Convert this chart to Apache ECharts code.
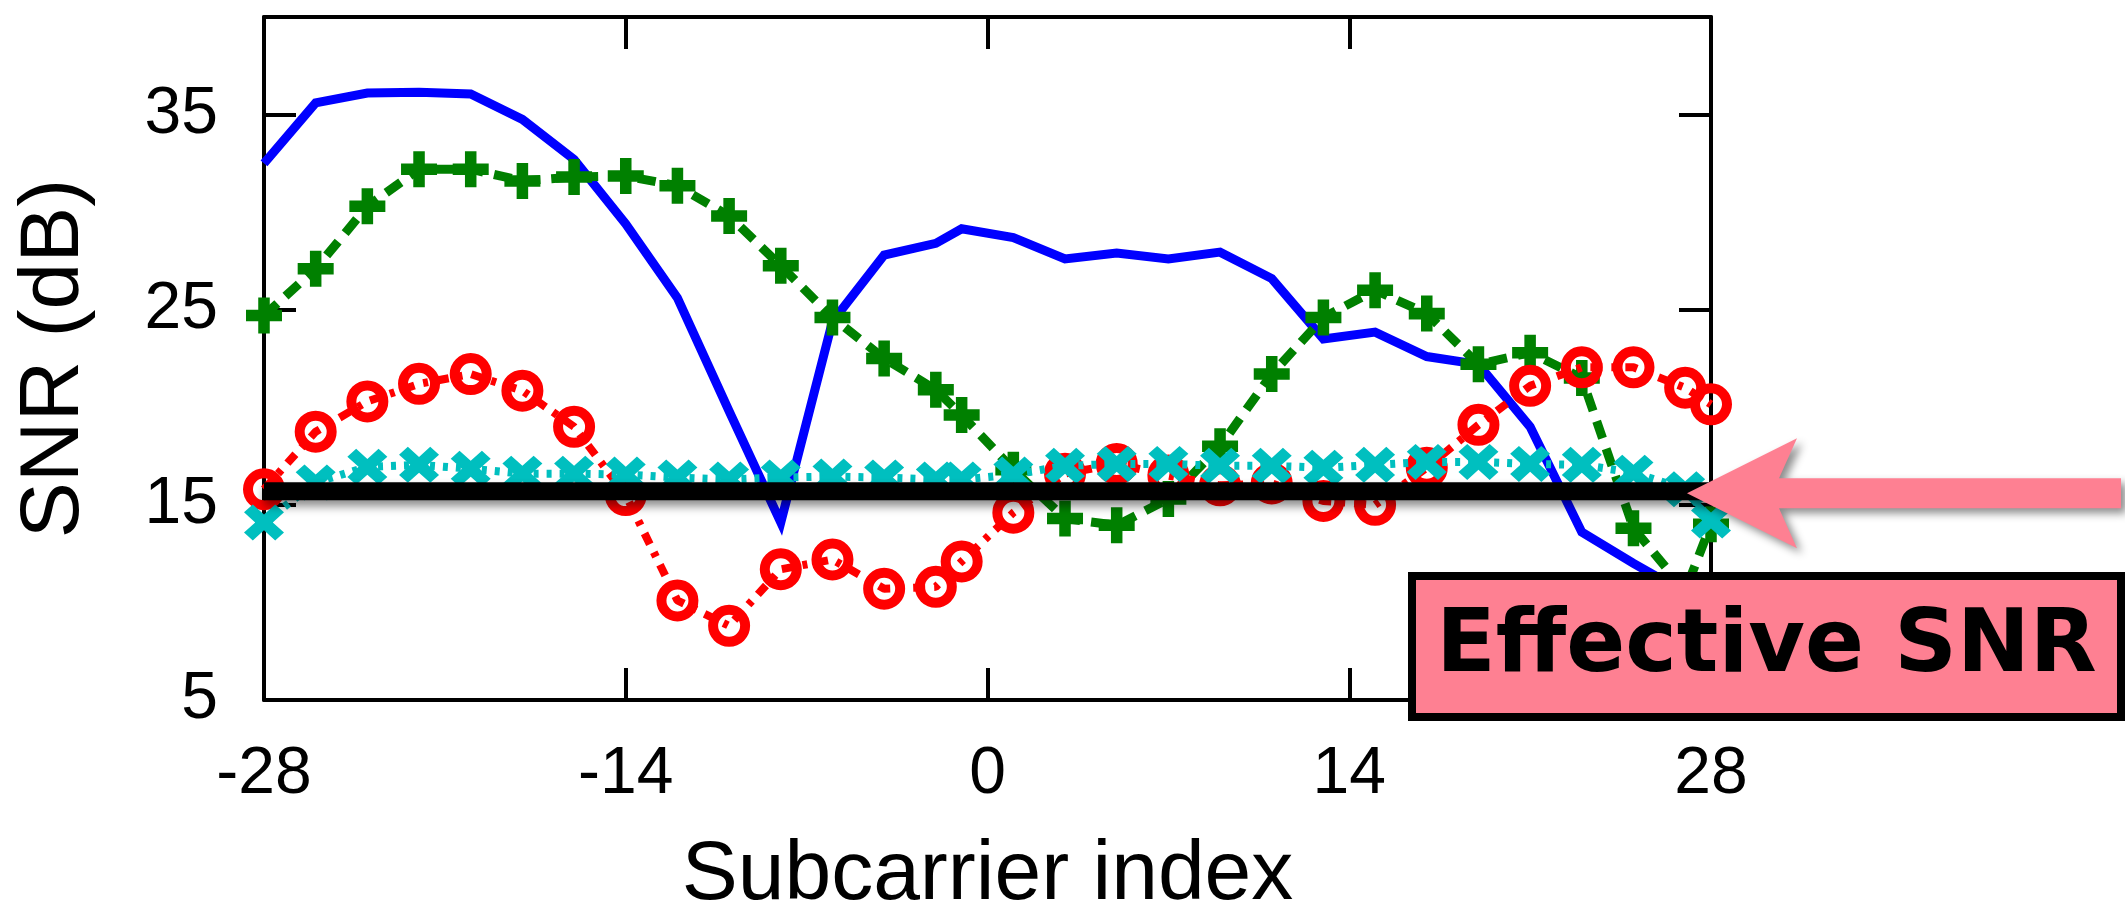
<!DOCTYPE html>
<html>
<head>
<meta charset="utf-8">
<title>SNR per subcarrier</title>
<script src="https://cdn.jsdelivr.net/npm/echarts@6/dist/echarts.min.js"></script>
<style>
  html, body { margin: 0; padding: 0; background: #ffffff; }
  #chart { width: 2125px; height: 923px; }
</style>
</head>
<body>
<div id="chart"></div>
<script>
// Subcarrier positions that carry a sample
const subcarriers = [-28, -26, -24, -22, -20, -18, -16, -14, -12, -10, -8, -6, -4, -2, -1,
                     1, 3, 5, 7, 9, 11, 13, 15, 17, 19, 21, 23, 25, 27, 28];

// Per-subcarrier SNR (dB) of four channels
const snrBlue = [32.5, 35.6, 36.1, 36.15, 36.05, 34.75, 32.7, 29.4, 25.6, 19.8, 14.1, 24.4, 27.8, 28.4, 29.15,
                 28.7, 27.6, 27.9, 27.6, 27.95, 26.6, 23.5, 23.85, 22.6, 22.2, 19.0, 13.6, 12.0, 10.5, 10.0];
const snrGreen = [24.7, 27.1, 30.3, 32.2, 32.2, 31.6, 31.8, 31.85, 31.35, 29.8, 27.25, 24.6, 22.5, 20.9, 19.6,
                  16.8, 14.3, 13.95, 15.3, 18.0, 21.7, 24.6, 26.0, 24.8, 22.2, 22.8, 21.5, 13.8, 10.6, 14.0];
const snrRed = [15.8, 18.75, 20.3, 21.2, 21.7, 20.85, 19.0, 15.5, 10.1, 8.8, 11.7, 12.2, 10.7, 10.8, 12.1,
                14.6, 16.6, 17.1, 16.5, 16.0, 16.1, 15.2, 15.0, 16.9, 19.1, 21.1, 22.05, 22.05, 21.0, 20.15];
const snrCyan = [14.1, 16.15, 16.95, 17.05, 16.85, 16.6, 16.6, 16.55, 16.4, 16.3, 16.4, 16.45, 16.4, 16.3, 16.3,
                 16.55, 17.0, 17.1, 17.1, 17.0, 17.0, 16.9, 17.05, 17.2, 17.2, 17.1, 17.05, 16.65, 15.8, 14.2];

// Effective SNR across the whole band (dB)
const effectiveSnr = 15.7;

// Axis ticks
const xTicks = [-28, -14, 0, 14, 28];
const yTicks = [5, 15, 25, 35];

const pairs = (ys) => subcarriers.map((x, i) => [x, ys[i]]);

const PLUS = 'path://M3.4,0 H6.6 V3.4 H10 V6.6 H6.6 V10 H3.4 V6.6 H0 V3.4 H3.4 Z';
const CROSS = 'path://M0,2.2 L2.2,0 L5,2.8 L7.8,0 L10,2.2 L7.2,5 L10,7.8 L7.8,10 L5,7.2 L2.2,10 L0,7.8 L2.8,5 Z';
const PINK = '#FE8092';

const chart = echarts.init(document.getElementById('chart'), null, { renderer: 'canvas' });

const tickFont = { fontFamily: 'Liberation Sans, Arial, sans-serif', fontSize: 66, color: '#000' };
const axisLine = { show: true, onZero: false, lineStyle: { color: '#000', width: 4 } };
const axisTick = (vals) => ({ show: true, inside: true, length: 32, lineStyle: { color: '#000', width: 4 }, customValues: vals });

const option = {
  animation: false,
  backgroundColor: '#ffffff',
  grid: { left: 264, right: 414, top: 17, bottom: 212, containLabel: false },
  xAxis: [
    {
      type: 'value', min: xTicks[0], max: xTicks[xTicks.length - 1], interval: 14, position: 'bottom',
      axisLine: axisLine, axisTick: axisTick(xTicks), splitLine: { show: false },
      axisLabel: Object.assign({ margin: 42, customValues: xTicks }, tickFont),
      name: 'Subcarrier index', nameLocation: 'middle', nameGap: 134,
      nameTextStyle: { fontFamily: 'Liberation Sans, Arial, sans-serif', fontSize: 84, color: '#000' }
    },
    {
      type: 'value', min: xTicks[0], max: xTicks[xTicks.length - 1], interval: 14, position: 'top',
      axisLine: axisLine, axisTick: axisTick(xTicks), splitLine: { show: false }, axisLabel: { show: false }
    }
  ],
  yAxis: [
    {
      type: 'value', min: 5, max: 40, position: 'left',
      axisLine: axisLine, axisTick: axisTick(yTicks), splitLine: { show: false },
      axisLabel: Object.assign({ margin: 46, customValues: yTicks }, tickFont),
      name: 'SNR (dB)', nameLocation: 'middle', nameGap: 167, nameRotate: 90,
      nameTextStyle: { fontFamily: 'Liberation Sans, Arial, sans-serif', fontSize: 84, color: '#000' }
    },
    {
      type: 'value', min: 5, max: 40, position: 'right',
      axisLine: axisLine, axisTick: axisTick(yTicks), splitLine: { show: false }, axisLabel: { show: false }
    }
  ],
  series: [
    {
      type: 'line', data: pairs(snrBlue), clip: false, symbol: 'none',
      lineStyle: { color: '#0000FF', width: 9, join: 'miter', miterLimit: 10 }, z: 2
    },
    {
      type: 'line', data: pairs(snrGreen), clip: false, showAllSymbol: true,
      symbol: PLUS, symbolSize: 36,
      itemStyle: { color: '#008000', borderWidth: 0 },
      lineStyle: { color: '#008000', width: 9, type: [18, 11] }, z: 3
    },
    {
      type: 'line', data: pairs(snrRed), clip: false, showAllSymbol: true,
      symbol: 'circle', symbolSize: 32,
      itemStyle: { color: 'rgba(255,255,255,0)', borderColor: '#FF0000', borderWidth: 10 },
      lineStyle: { color: '#FF0000', width: 8, type: [12, 9, 5, 9] }, z: 4
    },
    {
      type: 'line', data: pairs(snrCyan), clip: false, showAllSymbol: true,
      symbol: CROSS, symbolSize: [40, 36],
      itemStyle: { color: '#00BFBF', borderWidth: 0 },
      lineStyle: { color: '#00BFBF', width: 8, type: [5, 8] }, z: 5
    },
    {
      // effective SNR level
      type: 'line', data: [[xTicks[0], effectiveSnr], [xTicks[xTicks.length - 1], effectiveSnr]],
      symbol: 'none', clip: false,
      lineStyle: { color: '#000', width: 18, cap: 'butt',
                   shadowColor: 'rgba(0,0,0,0.45)', shadowBlur: 10, shadowOffsetY: 6 },
      z: 6
    }
  ]
};

chart.setOption(option);

// Annotation: arrow pointing at the effective SNR level, plus its caption box
const [xEnd, yEff] = chart.convertToPixel({ xAxisIndex: 0, yAxisIndex: 0 }, [xTicks[xTicks.length - 1], effectiveSnr]);
const tipX = xEnd - 24, tipY = yEff + 2;
const W = 2125;

chart.setOption({
  graphic: [
    {
      type: 'polygon', z: 100,
      shape: {
        points: [
          [tipX, tipY],
          [tipX + 110, tipY - 55],
          [tipX + 92, tipY - 15],
          [W - 4, tipY - 15],
          [W - 4, tipY + 15],
          [tipX + 92, tipY + 15],
          [tipX + 110, tipY + 55]
        ]
      },
      style: { fill: PINK, shadowColor: 'rgba(0,0,0,0.45)', shadowBlur: 8, shadowOffsetX: 5, shadowOffsetY: 5 }
    },
    {
      type: 'rect', z: 100,
      shape: { x: 1412, y: 576, width: W - 4 - 1412, height: 141 },
      style: { fill: PINK, stroke: '#000', lineWidth: 8 }
    },
    {
      type: 'text', z: 101,
      x: (1412 + W - 4) / 2, y: 648,
      style: {
        text: 'Effective SNR', fill: '#000',
        font: 'bold 87px "DejaVu Sans", sans-serif',
        textAlign: 'center', textVerticalAlign: 'middle'
      }
    }
  ]
});
</script>
</body>
</html>
